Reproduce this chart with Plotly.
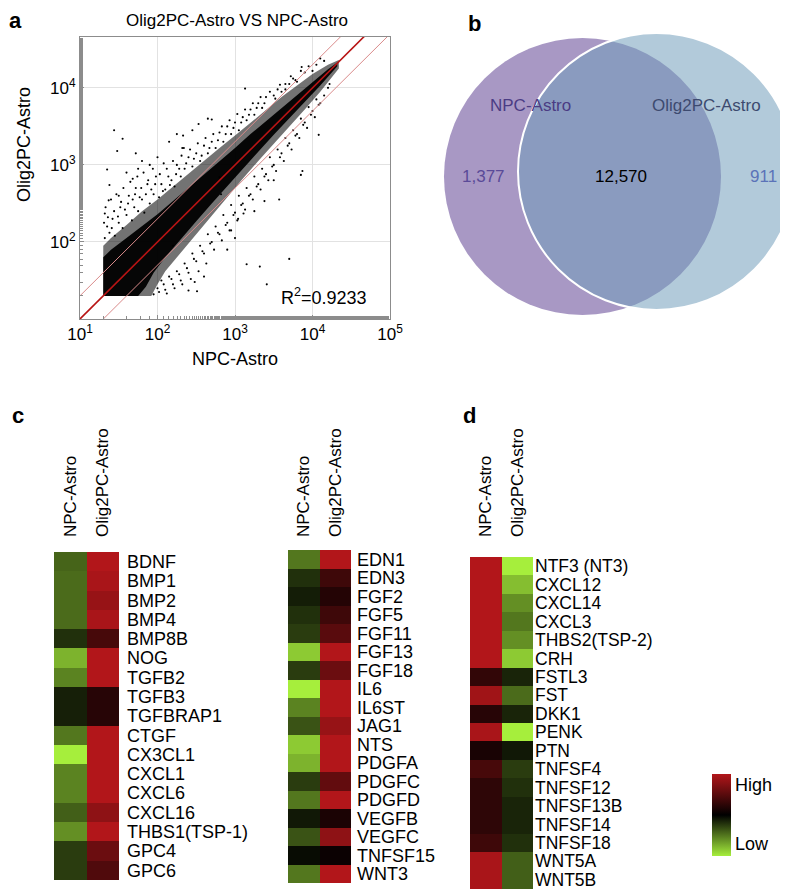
import plotly.graph_objects as go

W, H = 788, 890
FONT = "Liberation Sans, Arial, sans-serif"

# ---------------- data: panel a (log10 expression) ----------------
scatter_title = "Olig2PC-Astro VS NPC-Astro"
x_title = "NPC-Astro"
y_title = "Olig2PC-Astro"
r_squared = 0.9233
x_tick_vals = [10, 100, 1000, 10000, 100000]
x_tick_text = ["10<sup>1</sup>", "10<sup>2</sup>", "10<sup>3</sup>", "10<sup>4</sup>", "10<sup>5</sup>"]
y_tick_vals = [100, 1000, 10000]
y_tick_text = ["10<sup>2</sup>", "10<sup>3</sup>", "10<sup>4</sup>"]
fold_changes = [0.5, 1.0, 2.0]

# density outlines of the gene cloud (log10 NPC, log10 Olig2PC): mid (dense) and core (solid)
mid_npc_log = [1.30, 1.40, 1.60, 1.80, 2.00, 2.20, 2.40, 2.60, 2.80, 3.00, 3.20, 3.40, 3.60, 3.80, 4.00, 4.20, 4.34,
               4.34, 4.10, 3.90, 3.70, 3.50, 3.30, 3.10, 2.90, 2.70, 2.50, 2.30, 2.10, 2.00, 1.92, 1.30]
mid_olig_log = [1.95, 2.05, 2.22, 2.40, 2.55, 2.72, 2.88, 3.05, 3.22, 3.38, 3.55, 3.72, 3.88, 4.03, 4.18, 4.30, 4.36,
                4.25, 3.95, 3.72, 3.50, 3.28, 3.05, 2.82, 2.58, 2.35, 2.10, 1.86, 1.62, 1.45, 1.30, 1.30]
core_npc_log = [1.30, 1.40, 1.60, 1.80, 2.00, 2.20, 2.40, 2.60, 2.80, 3.00, 3.20, 3.40, 3.60, 3.80, 4.00, 4.20, 4.32,
                4.32, 4.10, 3.90, 3.70, 3.50, 3.30, 3.10, 2.90, 2.70, 2.50, 2.30, 2.10, 1.95, 1.85, 1.75, 1.30]
core_olig_log = [1.80, 1.90, 2.05, 2.20, 2.36, 2.53, 2.70, 2.88, 3.05, 3.22, 3.40, 3.57, 3.74, 3.91, 4.08, 4.24, 4.33,
                 4.28, 4.03, 3.82, 3.60, 3.39, 3.17, 2.95, 2.72, 2.50, 2.27, 2.03, 1.80, 1.60, 1.42, 1.30, 1.30]

# individual genes around the dense band
halo_npc_log = [1.32, 1.35, 1.38, 1.42, 1.45, 1.50, 1.52, 1.55, 1.60, 1.63, 1.67, 1.70, 1.72, 1.75, 1.80, 1.83, 1.87, 1.90,
                1.95, 1.98, 2.02, 2.05, 2.10, 2.12, 2.18, 2.22, 2.25, 2.30, 2.35, 2.40, 2.45, 2.50, 2.55, 2.60, 2.65, 2.70,
                2.75, 2.80, 2.85, 2.90, 2.95, 3.00, 3.05, 3.10, 3.15, 3.20, 3.25, 3.30, 3.35, 3.40, 3.50, 3.55, 3.60, 3.70,
                3.75, 3.80, 3.90, 4.00, 4.05, 4.15,
                1.95, 2.00, 2.05, 2.10, 2.15, 2.20, 2.25, 2.30, 2.35, 2.40, 2.45, 2.50, 2.55, 2.60, 2.65, 2.70, 2.75, 2.80,
                2.85, 2.90, 2.95, 3.00, 3.05, 3.10, 3.15, 3.20, 3.25, 3.30, 3.35, 3.40, 3.45, 3.50, 3.55, 3.60, 3.65, 3.70,
                3.75, 3.80, 3.85, 3.90, 3.95, 4.00, 4.05, 4.10, 4.20,
                1.31, 1.33, 1.36, 1.40, 1.41, 1.44, 1.47, 1.49, 1.53, 1.56, 1.58, 1.62, 1.65, 1.68, 1.71, 1.74, 1.77, 1.79,
                1.82, 1.85, 1.88, 1.92, 1.94, 1.97,
                2.03, 2.07, 2.08, 2.14, 2.16, 2.20, 2.24, 2.28, 2.31, 2.37, 2.42, 2.47, 2.52, 2.57, 2.62, 2.67, 2.72, 2.78,
                2.83, 2.88, 2.93, 2.98, 3.03, 3.08, 3.13, 3.18, 3.23, 3.28, 3.33, 3.38, 3.45, 3.52, 3.58, 3.65, 3.72, 3.78,
                3.85, 3.95, 4.10,
                2.02, 2.08, 2.12, 2.18, 2.22, 2.28, 2.32, 2.38, 2.43, 2.47, 2.53, 2.58, 2.63, 2.68, 2.73, 2.78, 2.83, 2.88,
                2.93, 2.98, 3.03, 3.08, 3.13, 3.18, 3.23, 3.28, 3.33, 3.38, 3.43, 3.48, 3.53, 3.58, 3.63, 3.68, 3.73, 3.78,
                3.83, 3.88, 3.93, 3.98, 4.03, 4.08, 4.15, 4.22]
halo_olig_log = [2.05, 2.20, 2.12, 2.30, 2.08, 2.25, 2.45, 2.18, 2.35, 2.60, 2.28, 2.45, 2.70, 2.40, 2.55, 2.38, 2.75, 2.50,
                 2.62, 2.85, 2.58, 2.75, 2.68, 2.95, 2.80, 2.72, 3.00, 2.85, 2.95, 3.10, 2.98, 3.15, 3.05, 3.25, 3.15, 3.30,
                 3.22, 3.42, 3.30, 3.50, 3.40, 3.55, 3.45, 3.62, 3.58, 3.72, 3.65, 3.80, 3.74, 3.88, 3.90, 3.98, 3.95, 4.05,
                 4.12, 4.08, 4.20, 4.22, 4.30, 4.35,
                 1.32, 1.40, 1.50, 1.38, 1.55, 1.45, 1.62, 1.50, 1.72, 1.60, 1.85, 1.75, 1.95, 1.85, 2.10, 2.00, 2.20, 2.10,
                 2.35, 2.25, 2.48, 2.38, 2.60, 2.50, 2.70, 2.62, 2.85, 2.75, 2.95, 2.88, 3.10, 3.00, 3.20, 3.15, 3.35, 3.28,
                 3.45, 3.40, 3.60, 3.55, 3.75, 3.70, 3.85, 3.80, 4.00,
                 2.25, 2.45, 2.32, 2.55, 2.18, 2.40, 2.62, 2.33, 2.52, 2.70, 2.42, 2.50, 2.78, 2.55, 2.62, 2.85, 2.58, 2.70,
                 2.90, 2.62, 2.80, 2.68, 2.95, 2.75,
                 2.88, 2.66, 3.02, 2.85, 2.74, 3.05, 2.88, 2.95, 3.12, 3.02, 3.20, 3.08, 3.28, 3.12, 3.35, 3.22, 3.40, 3.32,
                 3.50, 3.40, 3.58, 3.48, 3.66, 3.55, 3.72, 3.65, 3.80, 3.74, 3.88, 3.80, 3.95, 3.86, 4.04, 3.98, 4.15, 4.10,
                 4.22, 4.28, 4.38,
                 1.35, 1.45, 1.33, 1.52, 1.40, 1.58, 1.45, 1.66, 1.52, 1.78, 1.62, 1.88, 1.72, 1.98, 1.90, 2.12, 2.02, 2.22,
                 2.15, 2.35, 2.28, 2.48, 2.42, 2.60, 2.55, 2.72, 2.68, 2.85, 2.80, 2.98, 2.92, 3.10, 3.05, 3.25, 3.20, 3.38,
                 3.35, 3.52, 3.48, 3.65, 3.62, 3.78, 3.90, 4.05]

outlier_npc_log = [1.44, 1.55, 1.48, 1.72, 1.35, 1.38, 1.37, 1.32, 2.65, 2.70, 2.53, 2.32, 2.34, 2.33, 3.13, 3.86, 4.08,
                   3.85, 3.87, 3.38, 3.57, 3.70, 3.41, 3.15, 3.32, 3.11, 3.04, 2.82, 2.80, 2.48, 2.51, 2.40, 1.90, 2.00,
                   2.15, 1.60, 1.75, 2.60, 2.90, 3.00, 3.65, 1.50, 1.68, 2.25, 2.45, 2.95, 3.25, 3.50, 2.20, 1.80]
outlier_olig_log = [3.45, 3.34, 3.18, 3.15, 2.94, 2.74, 2.54, 2.37, 3.60, 3.59, 3.53, 3.22, 3.22, 3.38, 3.99, 4.27, 3.39,
                    2.87, 2.92, 2.53, 2.55, 1.78, 1.45, 1.71, 1.68, 2.37, 2.30, 2.62, 2.84, 1.48, 1.36, 1.37, 3.00, 3.10,
                    3.30, 2.90, 2.95, 1.55, 1.90, 2.05, 4.05, 2.60, 2.82, 3.40, 3.45, 2.15, 2.40, 2.80, 1.95, 3.05]

# ---------------- data: panel b ----------------
venn_sets = ["NPC-Astro", "Olig2PC-Astro"]
venn_counts = [1377, 12570, 911]   # NPC only, shared, Olig2PC only

# ---------------- data: panels c, d (relative expression, -1 low .. 1 high) ----------------
columns = ["NPC-Astro", "Olig2PC-Astro"]

genes_c1 = ["BDNF", "BMP1", "BMP2", "BMP4", "BMP8B", "NOG", "TGFB2", "TGFB3", "TGFBRAP1", "CTGF", "CX3CL1",
            "CXCL1", "CXCL6", "CXCL16", "THBS1(TSP-1)", "GPC4", "GPC6"]
npc_c1 = [-0.42, -0.45, -0.45, -0.45, -0.2, -0.75, -0.55, -0.13, -0.13, -0.5, -1.0, -0.55, -0.55, -0.4, -0.6, -0.25, -0.25]
olig_c1 = [1.0, 0.95, 0.85, 0.95, 0.4, 1.0, 1.0, 0.22, 0.22, 1.0, 1.0, 1.0, 1.0, 0.8, 1.0, 0.6, 0.45]

genes_c2 = ["EDN1", "EDN3", "FGF2", "FGF5", "FGF11", "FGF13", "FGF18", "IL6", "IL6ST", "JAG1", "NTS", "PDGFA",
            "PDGFC", "PDGFD", "VEGFB", "VEGFC", "TNFSF15", "WNT3"]
npc_c2 = [-0.5, -0.2, -0.12, -0.2, -0.25, -0.85, -0.25, -1.0, -0.55, -0.35, -0.85, -0.75, -0.25, -0.5, -0.1, -0.35, -0.05, -0.5]
olig_c2 = [1.0, 0.35, 0.2, 0.35, 0.5, 1.0, 0.6, 1.0, 1.0, 0.85, 1.0, 1.0, 0.55, 1.0, 0.15, 0.8, 0.06, 1.0]

genes_d = ["NTF3 (NT3)", "CXCL12", "CXCL14", "CXCL3", "THBS2(TSP-2)", "CRH", "FSTL3", "FST", "DKK1", "PENK", "PTN",
           "TNFSF4", "TNFSF12", "TNFSF13B", "TNFSF14", "TNFSF18", "WNT5A", "WNT5B"]
npc_d = [1.0, 1.0, 1.0, 1.0, 1.0, 1.0, 0.28, 0.9, 0.22, 0.95, 0.14, 0.4, 0.26, 0.26, 0.26, 0.35, 0.95, 0.95]
olig_d = [-1.0, -0.8, -0.6, -0.5, -0.6, -0.85, -0.15, -0.45, -0.15, -1.0, -0.1, -0.25, -0.2, -0.15, -0.15, -0.2, -0.4, -0.4]

legend_labels = ["High", "Low"]

# ---------------- helpers ----------------
def xd(a, b):
    return [a / W, b / W]

def yd(top, bottom):
    return [1 - bottom / H, 1 - top / H]

def px(x):
    return x / W

def py(y):
    return 1 - y / H

colorscale = [[0.0, "rgb(166,238,60)"], [0.5, "rgb(0,0,0)"], [1.0, "rgb(178,22,26)"]]

fig = go.Figure()

# ---------------- panel a ----------------
for xs_log, ys_log, alpha in [(mid_npc_log, mid_olig_log, 0.55),
                              (core_npc_log, core_olig_log, 0.95)]:
    fig.add_trace(go.Scatter(
        x=[10 ** v for v in xs_log], y=[10 ** v for v in ys_log],
        mode="lines", fill="toself", fillcolor=f"rgba(0,0,0,{alpha})", line=dict(width=0),
        hoverinfo="skip", showlegend=False, xaxis="x", yaxis="y"))
fig.add_trace(go.Scatter(
    x=[10 ** v for v in halo_npc_log + outlier_npc_log], y=[10 ** v for v in halo_olig_log + outlier_olig_log],
    mode="markers", marker=dict(size=2.1, color="black"), showlegend=False, xaxis="x", yaxis="y"))
for f in fold_changes:
    xs = [x_tick_vals[0], x_tick_vals[-1]]
    fig.add_trace(go.Scatter(
        x=xs, y=[f * v for v in xs], mode="lines",
        line=dict(color="#b81414" if f == 1.0 else "#d98a8a", width=1.6 if f == 1.0 else 1.0),
        hoverinfo="skip", showlegend=False, xaxis="x", yaxis="y"))

axis_common = dict(showline=True, linecolor="#8c8c8c", mirror=True, ticks="inside", ticklen=4,
                   tickcolor="#8c8c8c", showgrid=True, gridcolor="#e2e2e2", gridwidth=1, zeroline=False,
                   automargin=False,
                   tickfont=dict(size=17, color="black", family=FONT),
                   minor=dict(ticks="inside", ticklen=3, tickcolor="#8c8c8c", showgrid=False))

fig.update_layout(
    xaxis=dict(type="log", range=[1, 5], domain=xd(72, 382), anchor="y",
               tickvals=x_tick_vals, ticktext=x_tick_text,
               title=dict(text=x_title, font=dict(size=18, family=FONT, color="black"), standoff=8),
               **axis_common),
    yaxis=dict(type="log", range=[1, 4.66], domain=yd(29, 311), anchor="x",
               tickvals=y_tick_vals, ticktext=y_tick_text, **axis_common),
)

# ---------------- heatmaps ----------------
def add_heat(genes, npc, olig, xa, ya, show_scale=False):
    z = [[a, b] for a, b in zip(npc, olig)]
    tr = go.Heatmap(z=z, x=columns, y=genes, colorscale=colorscale, zmin=-1, zmax=1,
                    showscale=show_scale, xaxis=xa, yaxis=ya, xgap=0, ygap=0)
    if show_scale:
        tr.colorbar = dict(x=px(704), xanchor="left", xpad=0, y=py(766), yanchor="top", ypad=0,
                           lenmode="pixels", len=82, thicknessmode="pixels", thickness=19,
                           outlinewidth=0, tickvals=[0.73, -0.71], ticktext=legend_labels, ticks="",
                           tickfont=dict(size=18, family=FONT, color="black"))
    fig.add_trace(tr)

add_heat(genes_c1, npc_c1, olig_c1, "x2", "y2")
add_heat(genes_c2, npc_c2, olig_c2, "x3", "y3")
add_heat(genes_d, npc_d, olig_d, "x4", "y4", show_scale=True)

def heat_axes(xdom, ydom, top_px, lab_gap, genes, n, size=18):
    xa = dict(domain=xdom, side="top", tickangle=-90, showgrid=False, zeroline=False, showline=False,
              ticks="", ticklabelstandoff=max(top_px - 530, 0), automargin=False,
              tickmode="array", tickvals=columns, ticktext=columns, anchor=f"y{n}",
              tickfont=dict(size=17, family=FONT, color="black"))
    ya = dict(domain=ydom, side="right", autorange="reversed", showgrid=False, zeroline=False,
              showline=False, ticks="", ticklabelstandoff=lab_gap, automargin=False,
              tickmode="array", tickvals=genes, ticktext=genes, anchor=f"x{n}",
              tickfont=dict(size=size, family=FONT, color="black"))
    return xa, ya

xa2, ya2 = heat_axes(xd(46, 111), yd(544, 872), 544, 7, genes_c1, 2)
xa3, ya3 = heat_axes(xd(280, 343), yd(542, 875), 542, 5, genes_c2, 3)
xa4, ya4 = heat_axes(xd(462, 525), yd(549, 881), 549, 1, genes_d, 4, size=17.5)
fig.update_layout(xaxis2=xa2, yaxis2=ya2, xaxis3=xa3, yaxis3=ya3, xaxis4=xa4, yaxis4=ya4)

# ---------------- panel b: Venn ----------------
r = 138.5
left_c = (574.5, 168.5)
right_c = (648.5, 163.5)
fig.add_shape(type="circle", xref="paper", yref="paper",
              x0=px(left_c[0] - r), x1=px(left_c[0] + r), y0=py(left_c[1] + r), y1=py(left_c[1] - r),
              fillcolor="rgb(168,152,196)", line=dict(width=0), layer="below")
fig.add_shape(type="circle", xref="paper", yref="paper",
              x0=px(right_c[0] - r), x1=px(right_c[0] + r), y0=py(right_c[1] + r), y1=py(right_c[1] - r),
              fillcolor="rgba(112,157,186,0.54)", line=dict(width=2, color="white"), layer="below")

annots = []
def note(text, x, y, size=17, color="black", bold=False, xanchor="center", angle=0):
    annots.append(dict(text=f"<b>{text}</b>" if bold else text, x=px(x), y=py(y), xref="paper", yref="paper",
                       showarrow=False, xanchor=xanchor, yanchor="middle", textangle=angle,
                       font=dict(size=size, family=FONT, color=color)))

note(venn_sets[0], 522, 98, color="#4b3c84")
note(venn_sets[1], 698, 98, color="#3d4a6f")
note(f"{venn_counts[0]:,}", 475, 168, color="#5a4a98")
note(f"{venn_counts[1]:,}", 613, 168, color="black")
note(f"{venn_counts[2]:,}", 755, 168, color="#5b73b8")

# titles / labels
note(scatter_title, 229, 12, size=17)
note(y_title, 16, 137, size=18, angle=-90)
note(f"R<sup>2</sup>={r_squared}", 316, 288, size=18)
note("a", 8, 12, size=22, bold=True)
note("b", 466, 15, size=22, bold=True)
note("c", 10, 408, size=22, bold=True)
note("d", 461, 408, size=22, bold=True)

fig.update_layout(annotations=annots, width=W, height=H, margin=dict(l=0, r=0, t=0, b=0, autoexpand=False),
                  paper_bgcolor="white", plot_bgcolor="white", font=dict(family=FONT, color="black"),
                  showlegend=False)

fig.write_html("out.html")
